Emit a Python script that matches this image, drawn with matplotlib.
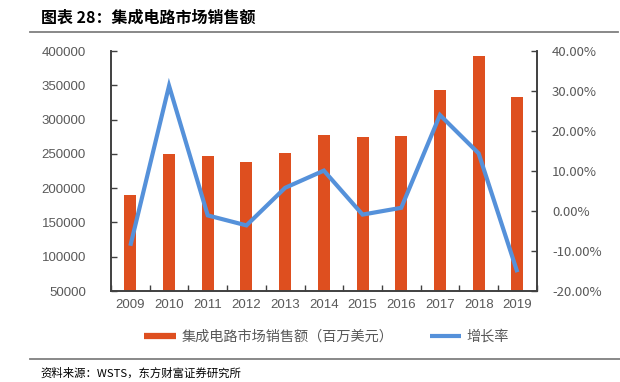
import matplotlib
matplotlib.use("Agg")
import matplotlib.pyplot as plt
from matplotlib.lines import Line2D
from matplotlib.ticker import FuncFormatter
import numpy as np

plt.rcParams['font.family'] = ['Noto Sans CJK SC', 'DejaVu Sans']

years = ['2009', '2010', '2011', '2012', '2013', '2014', '2015', '2016', '2017', '2018', '2019']
sales = [190000, 249600, 246600, 238000, 251000, 277000, 274000, 276300, 342600, 393200, 332800]
growth = [-8.7, 31.3, -1.1, -3.6, 5.8, 10.1, -0.9, 0.8, 24.0, 14.4, -15.3]

title = '图表 28：集成电路市场销售额'
bar_label = '集成电路市场销售额（百万美元）'
line_label = '增长率'
source = '资料来源：WSTS，东方财富证券研究所'

BAR = '#DE4F1F'
LINE = '#5591DA'
SPINE = '#404040'
TXT = '#595959'

W, H = 620, 382
fig = plt.figure(figsize=(W / 100, H / 100), dpi=100)
ax = fig.add_axes([111 / W, 1 - 291 / H, (536.7 - 111) / W, (291 - 51) / H])
ax2 = ax.twinx()

x = np.arange(len(years))
ax.bar(x, sales, width=0.31, color=BAR, zorder=2)
ax2.plot(x, growth, color=LINE, lw=3.0, solid_capstyle='butt', solid_joinstyle='miter', zorder=3)

ax.set_xlim(-0.5, len(years) - 0.5)
ax.set_ylim(50000, 400000)
ax.set_yticks(np.arange(50000, 400001, 50000))
ax2.set_ylim(-20, 40)
ax2.set_yticks(np.arange(-20, 41, 10))
ax2.yaxis.set_major_formatter(FuncFormatter(lambda v, p: f'{v:.2f}%'))

ax.set_xticks(np.arange(-0.5, len(years), 1))
ax.set_xticklabels([])
ax.set_xticks(x, minor=True)
ax.set_xticklabels(years, minor=True)
ax.tick_params(axis='x', which='major', direction='in', length=4, color=SPINE, width=1)
ax.tick_params(axis='x', which='minor', length=0, pad=6, labelsize=9.5, labelcolor=TXT)
for lab in ax.get_xticklabels(minor=True):
    lab.set_family(['Liberation Sans', 'DejaVu Sans'])
ax.tick_params(axis='y', direction='in', length=4, color=SPINE, width=1, labelsize=9.5,
               labelcolor=TXT, pad=18)
for lab in ax.get_yticklabels():
    lab.set_family(['Liberation Sans', 'DejaVu Sans'])
ax2.tick_params(axis='y', direction='in', length=4, color=SPINE, width=1, labelsize=9.5,
                labelcolor=TXT, pad=11)

for a in (ax, ax2):
    a.spines['top'].set_visible(False)
    for s in ('left', 'right', 'bottom'):
        a.spines[s].set_color(SPINE)
        a.spines[s].set_linewidth(1.2)

handles = [Line2D([0], [0], color=BAR, lw=4.5, solid_capstyle='butt'),
           Line2D([0], [0], color=LINE, lw=3.0, solid_capstyle='butt')]
fig.legend(handles, [bar_label, line_label], loc='center', bbox_to_anchor=(0.527, 1 - 337 / H),
           ncol=2, frameon=False, fontsize=10.2, handlelength=2.2, handletextpad=0.4,
           columnspacing=2.6, labelcolor=TXT)

fig.text(41 / W, 1 - 18 / H, title, fontsize=11.5, fontweight='bold', va='center', ha='left', color='black')
fig.add_artist(Line2D([30 / W, 618 / W], [1 - 32 / H, 1 - 32 / H], color='#7F7F7F', lw=1.3,
                      transform=fig.transFigure))
fig.add_artist(Line2D([30 / W, 620 / W], [1 - 359 / H, 1 - 359 / H], color='#7F7F7F', lw=1.3,
                      transform=fig.transFigure))
fig.text(40 / W, 1 - 373 / H, source, fontsize=8.2, va='center', ha='left', color='black')

fig.savefig('out.png', dpi=100, facecolor='white')
